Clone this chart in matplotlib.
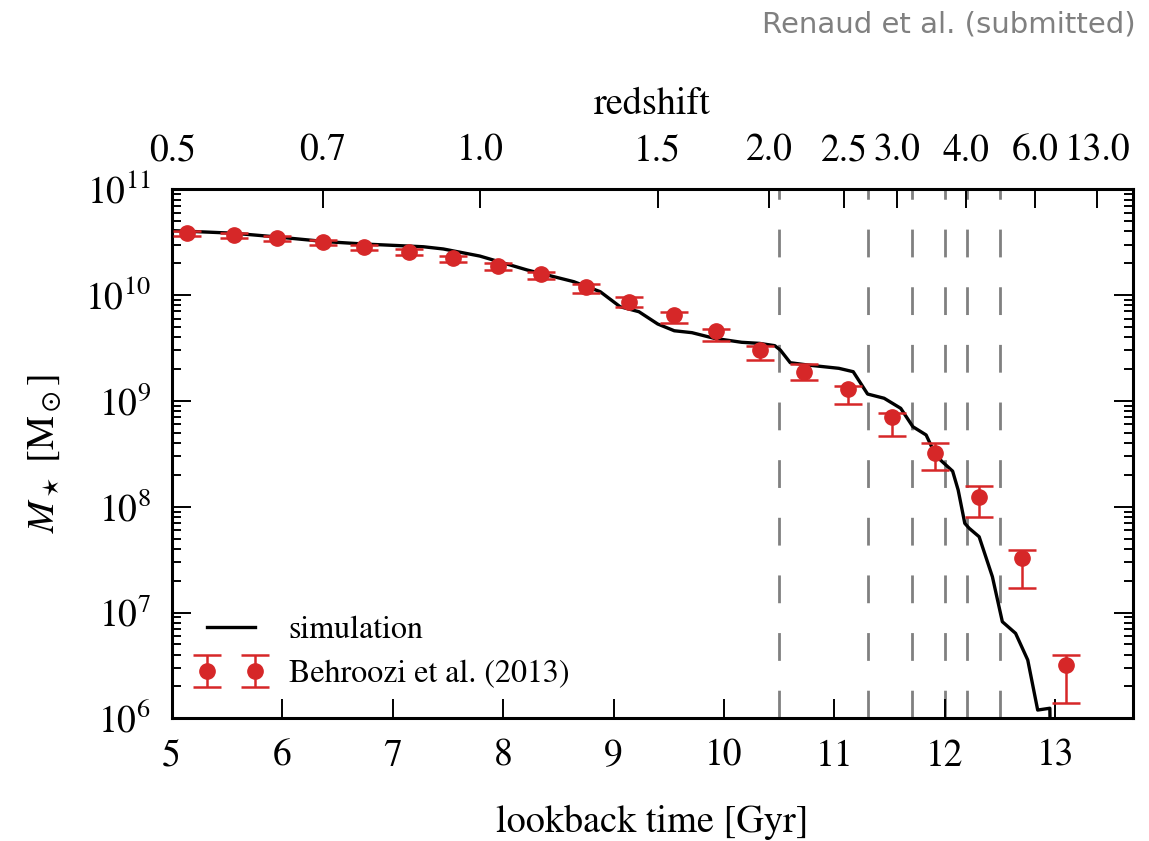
import matplotlib
matplotlib.use('Agg')
import matplotlib.pyplot as plt
from matplotlib.ticker import NullLocator
from matplotlib.legend_handler import HandlerErrorbar, HandlerLine2D
import numpy as np

plt.rcParams['font.family'] = 'serif'
plt.rcParams['font.serif'] = ['STIXGeneral', 'Liberation Serif', 'DejaVu Serif']
plt.rcParams['mathtext.fontset'] = 'stix'
plt.rcParams['lines.scale_dashes'] = False

# simulation: lookback time [Gyr], log10 stellar mass
sim_t = [5.00, 5.56, 5.95, 6.40, 6.74, 7.28, 7.46, 7.79, 8.22, 8.64, 8.88, 9.06,
         9.23, 9.40, 9.55, 9.71, 9.91, 10.16, 10.32, 10.46, 10.51, 10.60, 10.76,
         11.04, 11.17, 11.30, 11.45, 11.60, 11.71, 11.83, 11.88, 11.96, 12.07,
         12.12, 12.18, 12.22, 12.31, 12.43, 12.52, 12.64, 12.75, 12.84, 12.95, 12.96]
sim_logm = [10.61, 10.585, 10.55, 10.505, 10.483, 10.457, 10.436, 10.369, 10.237,
            10.127, 10.032, 9.890, 9.843, 9.727, 9.663, 9.645, 9.592, 9.554, 9.544,
            9.522, 9.481, 9.361, 9.339, 9.308, 9.276, 9.065, 9.025, 8.930, 8.756,
            8.678, 8.567, 8.441, 8.336, 8.158, 7.843, 7.796, 7.716, 7.338, 6.913,
            6.803, 6.551, 6.078, 6.095, 5.5]

# Behroozi et al. (2013)
obs_t = [5.14, 5.56, 5.95, 6.37, 6.74, 7.15, 7.55, 7.95, 8.34, 8.75, 9.14, 9.55,
         9.93, 10.33, 10.72, 11.12, 11.52, 11.91, 12.31, 12.70, 13.10]
obs_logm = [10.590, 10.568, 10.537, 10.499, 10.457, 10.410, 10.348, 10.278, 10.197,
            10.077, 9.938, 9.812, 9.661, 9.481, 9.276, 9.110, 8.845, 8.505, 8.094,
            7.512, 6.501]
obs_err_lo = [0.03, 0.03, 0.03, 0.03, 0.03, 0.033, 0.035, 0.04, 0.045, 0.054, 0.053,
              0.078, 0.092, 0.092, 0.081, 0.139, 0.177, 0.158, 0.195, 0.284, 0.359]
obs_err_hi = [0.02, 0.02, 0.02, 0.02, 0.02, 0.022, 0.022, 0.024, 0.025, 0.026, 0.04,
              0.026, 0.022, 0.041, 0.07, 0.035, 0.041, 0.095, 0.101, 0.076, 0.097]

# redshift axis
z_labels = ['0.5', '0.7', '1.0', '1.5', '2.0', '2.5', '3.0', '4.0', '6.0', '13.0']
z_lookback = [5.01, 6.37, 7.79, 9.40, 10.41, 11.09, 11.57, 12.19, 12.82, 13.38]

# dashed markers
snap_t = [10.5, 11.3, 11.7, 12.0, 12.2, 12.5]

red = '#d62728'

fig = plt.figure(figsize=(11.49, 8.41), dpi=100)
ax = fig.add_axes([0.1494, 0.1459, 0.8364, 0.629])

for t in snap_t:
    ax.axvline(t, color='#808080', lw=2.0, dashes=(20, 21.5), zorder=1)

line, = ax.plot(sim_t, 10**np.array(sim_logm), color='k', lw=2.4, zorder=3,
                label='simulation')

m = 10**np.array(obs_logm)
lo = m - 10**(np.array(obs_logm) - np.array(obs_err_lo))
hi = 10**(np.array(obs_logm) + np.array(obs_err_hi)) - m
eb = ax.errorbar(obs_t, m, yerr=[lo, hi], fmt='o', color=red, ms=11, lw=1.8,
                 capsize=10, capthick=1.8, zorder=4, label='Behroozi et al. (2013)')

ax.set_yscale('log')
ax.set_ylim(1e6, 1e11)
ax.set_xlim(5, 13.7)
ax.set_xticks(range(5, 14))
ax.xaxis.set_minor_locator(NullLocator())

ax.tick_params(which='both', direction='in', right=True, top=False, labelsize=27, pad=15)
ax.tick_params(which='major', length=13.7, width=1.4)
ax.tick_params(which='minor', length=6.5, width=1.4)
for s in ax.spines.values():
    s.set_linewidth(2.2)

ax.set_xlabel('lookback time [Gyr]', fontsize=27.5, labelpad=22)
ax.set_ylabel(r'$M_\star$ [M$_\odot$]', fontsize=27.5, labelpad=16)

ax2 = ax.twiny()
ax2.set_xlim(ax.get_xlim())
ax2.set_xticks(z_lookback)
ax2.set_xticklabels(z_labels)
ax2.xaxis.set_minor_locator(NullLocator())
ax2.tick_params(axis='x', direction='in', length=13.7, width=1.4, labelsize=27, pad=15)
ax2.set_xlabel('redshift', fontsize=27.5, labelpad=14)

ax.legend(loc='lower left', frameon=False, numpoints=2, fontsize=23,
          handlelength=1.5, handletextpad=1.05, borderpad=0, borderaxespad=0,
          labelspacing=0.45, bbox_to_anchor=(0.037, 0.055),
          handler_map={eb: HandlerErrorbar(marker_pad=0), line: HandlerLine2D(marker_pad=0)})

fig.text(0.9887, 0.988, 'Renaud et al. (submitted)', ha='right', va='top',
         color='#808080', family='DejaVu Sans', fontsize=21)

fig.savefig('out.png', dpi=100)
